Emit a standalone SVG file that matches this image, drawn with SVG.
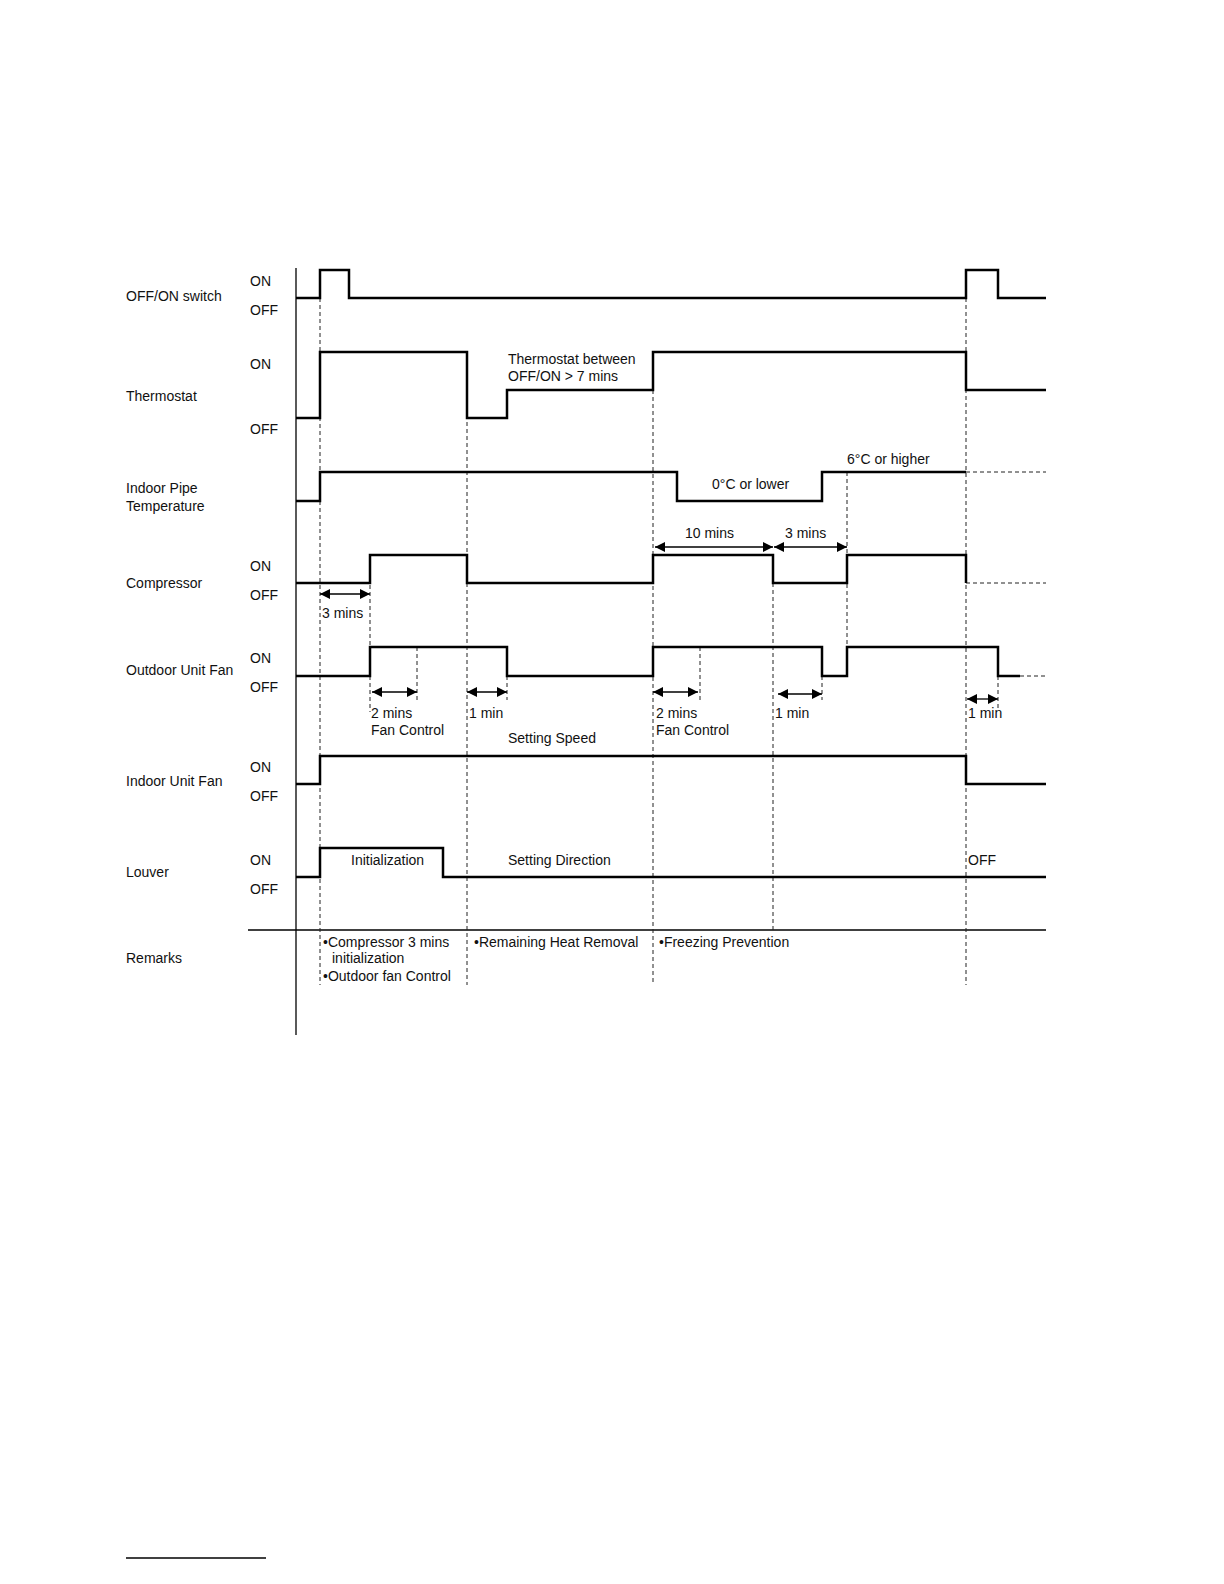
<svg xmlns="http://www.w3.org/2000/svg" width="1224" height="1584" viewBox="0 0 1224 1584">
<style>
text{font-family:"Liberation Sans",Arial,sans-serif;font-size:14px;fill:#111}
.sig{fill:none;stroke:#000;stroke-width:2.5}
.d{fill:none;stroke:#222;stroke-width:1;stroke-dasharray:4,3}
.ax{stroke:#000;stroke-width:1.3}
.ar{stroke:#000;stroke-width:1.3;marker-start:url(#a);marker-end:url(#a)}
</style>
<defs><marker id="a" viewBox="0 0 10 10" refX="10" refY="5" markerWidth="14" markerHeight="10" markerUnits="userSpaceOnUse" orient="auto-start-reverse"><path d="M0,0L10,5L0,10z"/></marker></defs>
<rect width="1224" height="1584" fill="#fff"/>
<line class="ax" x1="296" y1="268" x2="296" y2="1035"/>
<line class="ax" x1="248" y1="930" x2="1046" y2="930"/>
<line class="ax" x1="126" y1="1558" x2="266" y2="1558" stroke="#33c"/>
<g id="connectors">
<path class="d" d="M320,298V985M467,352V985M653,390V985M773,555V930M847,472V645M966,298V985M370,585V712M417,647V700M700,647V700M507,676V700M822,676V700M998,676V710"/>
<path class="d" d="M966,472H1046M966,583H1046M1020,676H1046"/>
<path class="sig" d="M296,298H320V270H349V298H966V270H998V298H1046"/>
<path class="sig" d="M296,418H320V352H467V418H507V390H653V352H966V390H1046"/>
<path class="sig" d="M296,501H320V472H677V501H822V472H966"/>
<path class="sig" d="M296,583H370V555H467V583H653V555H773V583H847V555H966V583"/>
<path class="sig" d="M296,676H370V647H507V676H653V647H822V676H847V647H998V676H1020"/>
<path class="sig" d="M296,784H320V756H966V784H1046"/>
<path class="sig" d="M296,877H320V848H443V877H1046"/>
<line class="ar" x1="320" y1="594" x2="370" y2="594"/>
<line class="ar" x1="372" y1="692" x2="417" y2="692"/>
<line class="ar" x1="467" y1="692" x2="507" y2="692"/>
<line class="ar" x1="653" y1="692" x2="698" y2="692"/>
<line class="ar" x1="778" y1="694" x2="822" y2="694"/>
<line class="ar" x1="967" y1="699" x2="998" y2="699"/>
<line class="ar" x1="655" y1="547" x2="773" y2="547"/>
<line class="ar" x1="774" y1="547" x2="847" y2="547"/>
</g>
<g id="labels">
<text x="126" y="301">OFF/ON switch</text>
<text x="126" y="401">Thermostat</text>
<text x="126" y="493">Indoor Pipe</text>
<text x="126" y="511">Temperature</text>
<text x="126" y="588">Compressor</text>
<text x="126" y="675">Outdoor Unit Fan</text>
<text x="126" y="786">Indoor Unit Fan</text>
<text x="126" y="877">Louver</text>
<text x="126" y="963">Remarks</text>
<text x="250" y="286">ON</text><text x="250" y="315">OFF</text>
<text x="250" y="369">ON</text><text x="250" y="434">OFF</text>
<text x="250" y="571">ON</text><text x="250" y="600">OFF</text>
<text x="250" y="663">ON</text><text x="250" y="692">OFF</text>
<text x="250" y="772">ON</text><text x="250" y="801">OFF</text>
<text x="250" y="865">ON</text><text x="250" y="894">OFF</text>
<text x="508" y="364">Thermostat between</text>
<text x="508" y="381">OFF/ON &gt; 7 mins</text>
<text x="712" y="489">0°C or lower</text>
<text x="847" y="464">6°C or higher</text>
<text x="685" y="538">10 mins</text>
<text x="785" y="538">3 mins</text>
<text x="322" y="618">3 mins</text>
<text x="371" y="718">2 mins</text>
<text x="371" y="735">Fan Control</text>
<text x="469" y="718">1 min</text>
<text x="508" y="743">Setting Speed</text>
<text x="656" y="718">2 mins</text>
<text x="656" y="735">Fan Control</text>
<text x="775" y="718">1 min</text>
<text x="968" y="718">1 min</text>
<text x="351" y="865">Initialization</text>
<text x="508" y="865">Setting Direction</text>
<text x="968" y="865">OFF</text>
<text x="323" y="947">•Compressor 3 mins</text>
<text x="332" y="963">initialization</text>
<text x="323" y="981">•Outdoor fan Control</text>
<text x="474" y="947">•Remaining Heat Removal</text>
<text x="659" y="947">•Freezing Prevention</text>
</g>
</svg>
